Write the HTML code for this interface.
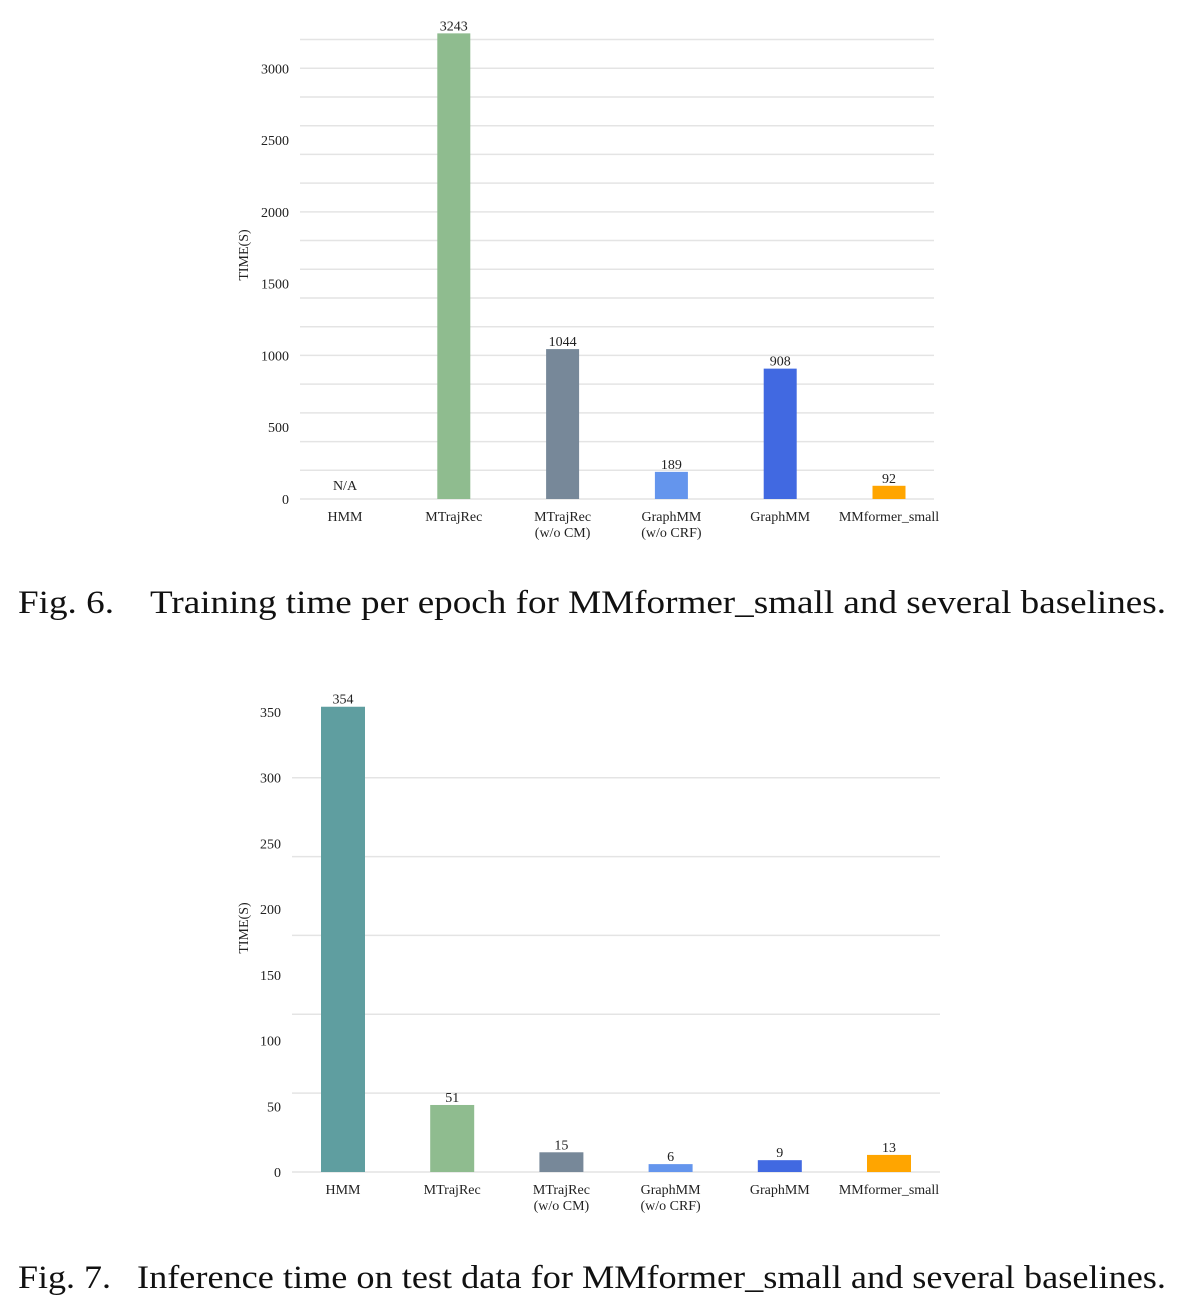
<!DOCTYPE html>
<html><head><meta charset="utf-8"><style>
body{margin:0;background:#fff;width:1182px;height:1314px;overflow:hidden}
svg{display:block}
text{font-family:"Liberation Serif",serif;fill:#222}
.cap{font-size:33px;fill:#111}
</style></head><body>
<svg id="s" width="1182" height="1314">
<g id="c1"></g>
<g id="c2"></g>
<g>
<text class="cap" x="18" y="613" textLength="96" lengthAdjust="spacingAndGlyphs">Fig. 6.</text>
<text class="cap" x="150" y="613" textLength="1016" lengthAdjust="spacingAndGlyphs">Training time per epoch for MMformer_small and several baselines.</text>
</g>
<g>
<text class="cap" x="18" y="1288" textLength="93" lengthAdjust="spacingAndGlyphs">Fig. 7.</text>
<text class="cap" x="137" y="1288" textLength="1029" lengthAdjust="spacingAndGlyphs">Inference time on test data for MMformer_small and several baselines.</text>
</g>
</svg>
<script>
const categories=["HMM","MTrajRec","MTrajRec\n(w/o CM)","GraphMM\n(w/o CRF)","GraphMM","MMformer_small"];
const colors1=["#5F9EA0","#8FBC8F","#778899","#6495ED","#4169E1","#FFA500"];
const trainValues=[null,3243,1044,189,908,92];
const trainTicks=[0,500,1000,1500,2000,2500,3000];
const inferValues=[354,51,15,6,9,13];
const inferTicks=[0,50,100,150,200,250,300,350];
const NS="http://www.w3.org/2000/svg";
function mk(p,tag,a,txt){const e=document.createElementNS(NS,tag);for(const k in a)e.setAttribute(k,a[k]);if(txt!=null)e.textContent=txt;p.appendChild(e);return e;}
function chart(g,vals,ticks,o){
  const y=v=>o.y0-v*o.k;
  const x=i=>o.xc0+i*o.dx;
  for(let v=0;v<=o.gmax;v+=o.gstep){
    const l=mk(g,'line',{x1:o.gx1,x2:o.gx2,y1:y(v),y2:y(v),stroke:'#e4e4e4','stroke-width':1.5});
    
    
  }
  ticks.forEach(t=>{
    const e=mk(g,'text',{x:o.gx1-11,y:y(t)+5,'text-anchor':'end','font-size':14},t);
    
    
  });
  const yt=mk(g,'text',{x:0,y:0,'font-size':14,'text-anchor':'middle',transform:`translate(${o.ytx},${o.yty}) rotate(-90)`},'TIME(S)');
  
  
  vals.forEach((v,i)=>{
    const cx=x(i);
    if(v==null){
      const n=mk(g,'text',{x:cx,y:o.y0-9,'text-anchor':'middle','font-size':14},'N/A');
      
      
    } else {
      const r=mk(g,'rect',{x:cx-o.bw/2,y:y(v),width:o.bw,height:v*o.k,fill:o.colors[i]});
      
      
      const t=mk(g,'text',{x:cx,y:y(v)-3,'text-anchor':'middle','font-size':14},v);
      
      
    }
    categories[i].split('\n').forEach((ln,j)=>{
      const c=mk(g,'text',{x:cx,y:o.y0+22+j*16,'text-anchor':'middle','font-size':14},ln);
      
      
    });
  });
}
chart(document.getElementById('c1'),trainValues,trainTicks,{y0:499,k:0.14358,xc0:345,dx:108.8,bw:33,gx1:300,gx2:934,gmax:3200,gstep:200,colors:colors1,ytx:248,yty:255});
chart(document.getElementById('c2'),inferValues,inferTicks,{y0:1172,k:1.3143,xc0:343,dx:109.2,bw:44,gx1:292,gx2:940,gmax:300,gstep:60,colors:colors1,ytx:248,yty:928});
</script>
</body></html>
